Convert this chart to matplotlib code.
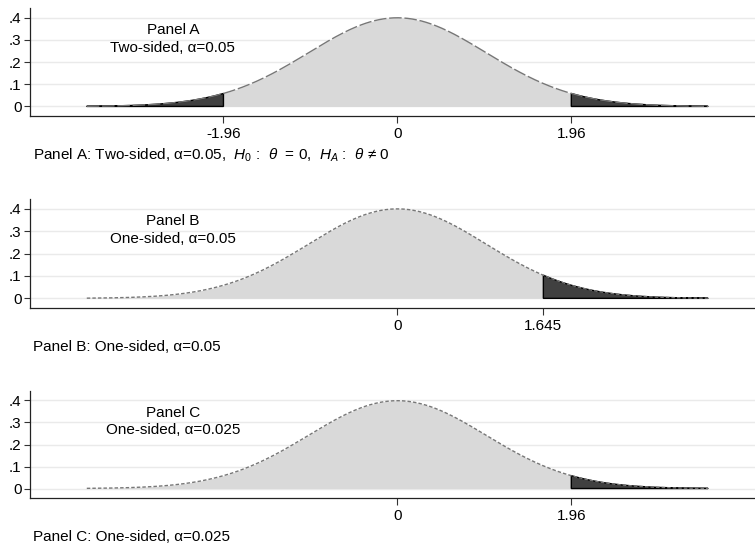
import matplotlib
matplotlib.use("Agg")
import matplotlib.pyplot as plt
import numpy as np

plt.rcParams['font.family'] = ['Liberation Sans', 'DejaVu Sans']
plt.rcParams['mathtext.fontset'] = 'custom'
plt.rcParams['mathtext.rm'] = 'Liberation Sans'
plt.rcParams['mathtext.it'] = 'Liberation Sans:italic'

# standard normal, critical values per panel
mu, sd = 0.0, 1.0
x_lo, x_hi = -3.5, 3.5
panel_names = ['Panel A', 'Panel B', 'Panel C']
panel_desc = ['Two-sided, \u03b1=0.05', 'One-sided, \u03b1=0.05', 'One-sided, \u03b1=0.025']
crit_lower = [-1.96, None, None]
crit_upper = [1.96, 1.645, 1.96]
xtick_vals = [[-1.96, 0, 1.96], [0, 1.645], [0, 1.96]]
xtick_labels = [['-1.96', '0', '1.96'], ['0', '1.645'], ['0', '1.96']]
ytick_vals = [0, 0.1, 0.2, 0.3, 0.4]
ytick_labels = ['0', '.1', '.2', '.3', '.4']
captions = ['Panel A: Two-sided, \u03b1=0.05,  $H_0$ :  $\\theta$  = 0,  $H_A$ :  $\\theta$ \u2260 0',
            'Panel B: One-sided, \u03b1=0.05',
            'Panel C: One-sided, \u03b1=0.025']
line_dash = [(0, (9, 2)), (0, (2.5, 1.5)), (0, (2.5, 1.5))]

x = np.linspace(x_lo, x_hi, 400)
dens = np.exp(-0.5 * ((x - mu) / sd) ** 2) / (sd * np.sqrt(2 * np.pi))

W, H = 755, 546
fig = plt.figure(figsize=(W / 100, H / 100), dpi=100)

# axes boxes in pixels: (top, bottom)
boxes = [(8, 116), (199, 308), (391, 498)]
caption_y = [155, 347, 537]
left = 30

for i in range(3):
    top, bot = boxes[i]
    ax = fig.add_axes([left / W, 1 - bot / H, 1 - left / W, (bot - top) / H])
    ax.set_xlim(-4.14, 4.03)
    ax.set_ylim(-0.043, 0.443)

    ax.fill_between(x, 0, dens, color='#d9d9d9', lw=0, zorder=2)
    for c, side in [(crit_lower[i], 'low'), (crit_upper[i], 'high')]:
        if c is None:
            continue
        m = x <= c if side == 'low' else x >= c
        xs = x[m]
        ys = dens[m]
        pc = np.exp(-0.5 * ((c - mu) / sd) ** 2) / (sd * np.sqrt(2 * np.pi))
        if side == 'low':
            xs = np.append(xs, c); ys = np.append(ys, pc)
            px = np.concatenate([xs, [c, xs[0]]]); py = np.concatenate([ys, [0, 0]])
        else:
            xs = np.insert(xs, 0, c); ys = np.insert(ys, 0, pc)
            px = np.concatenate([xs, [xs[-1], c]]); py = np.concatenate([ys, [0, 0]])
        ax.fill(px, py, facecolor='#404040', edgecolor='black', lw=1.0, zorder=3)
    ax.plot(x, dens, color='#777777', lw=1.0, linestyle=line_dash[i], zorder=4)

    for yv in ytick_vals:
        ax.axhline(yv, color='#eaeaea', lw=1.0, zorder=1)

    ax.set_yticks(ytick_vals)
    ax.set_yticklabels(ytick_labels)
    ax.set_xticks(xtick_vals[i])
    ax.set_xticklabels(xtick_labels[i])
    ax.tick_params(axis='both', labelsize=11, length=4, width=0.8, color='#333333', pad=2)
    ax.tick_params(axis='x', length=5, pad=3)
    for s in ['top', 'right']:
        ax.spines[s].set_visible(False)
    for s in ['left', 'bottom']:
        ax.spines[s].set_color('#222222')
        ax.spines[s].set_linewidth(0.9)

    ax.text(-2.53, 0.345, panel_names[i], ha='center', va='center', fontsize=11, zorder=5)
    ax.text(-2.53, 0.265, panel_desc[i], ha='center', va='center', fontsize=11, zorder=5)

    fig.text(33 / W, 1 - caption_y[i] / H, captions[i], ha='left', va='center', fontsize=11)

fig.savefig('out.png', dpi=100)
